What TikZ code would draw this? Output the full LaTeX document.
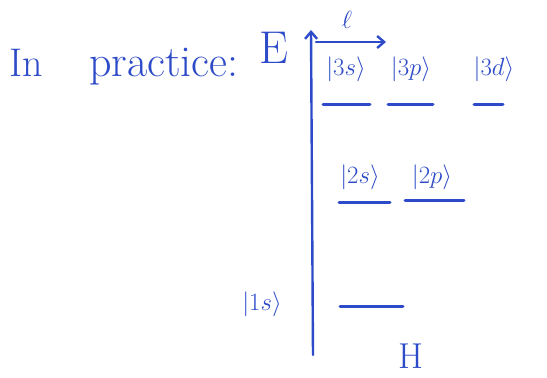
\documentclass[tikz,border=0pt]{standalone}
\usetikzlibrary{arrows.meta}
\definecolor{ink}{RGB}{45,75,200}
\begin{document}
\begin{tikzpicture}[x=1pt,y=-1pt,
  pen/.style={draw=ink, line width=2.4pt, line cap=round},
  level/.style={draw=ink, line width=3pt, line cap=round},
  txt/.style={text=ink, inner sep=1pt, font=\fontsize{40}{42}\selectfont},
  ket/.style={text=ink, inner sep=1pt, font=\fontsize{27}{29}\selectfont}]
\useasboundingbox (0,0) rectangle (547,378);
% title
\node[txt, anchor=base west] (title) at (8,76) {In};
\node[txt, anchor=base west, font=\fontsize{44}{46}\selectfont] (practice) at (88,76) {practice:};
\node[txt, anchor=base, font=\fontsize{46}{48}\selectfont] (E) at (274,63) {E};
% axes
\coordinate (ebot) at (313,355);
\coordinate (etop) at (311,30);
\draw[pen,-{Straight Barb[length=7pt,width=12pt]}] (ebot) -- (etop);
\coordinate (lstart) at (316,42);
\coordinate (lend) at (386,42);
\draw[pen,-{Straight Barb[length=7pt,width=12pt]}] (lstart) -- (lend);
\node[ket, font=\fontsize{30}{32}\selectfont] (ell) at (347,20) {$\ell$};
% n = 3
\coordinate (s3a) at (323,104); \coordinate (s3b) at (370,104);
\coordinate (p3a) at (388,104); \coordinate (p3b) at (433,104);
\coordinate (d3a) at (474,104); \coordinate (d3b) at (503,104);
\draw[level] (s3a) -- (s3b);
\draw[level] (p3a) -- (p3b);
\draw[level] (d3a) -- (d3b);
\node[ket] (k3s) at (346,69) {$|3s\rangle$};
\node[ket] (k3p) at (411,69) {$|3p\rangle$};
\node[ket] (k3d) at (494,69) {$|3d\rangle$};
% n = 2
\coordinate (s2a) at (339,202); \coordinate (s2b) at (390,202);
\coordinate (p2a) at (405,200); \coordinate (p2b) at (464,200);
\draw[level] (s2a) -- (s2b);
\draw[level] (p2a) -- (p2b);
\node[ket] (k2s) at (360,177) {$|2s\rangle$};
\node[ket] (k2p) at (432,177) {$|2p\rangle$};
% n = 1
\coordinate (s1a) at (340,306); \coordinate (s1b) at (403,306);
\draw[level] (s1a) -- (s1b);
\node[ket] (k1s) at (262,304) {$|1s\rangle$};
% label
\node[txt, font=\fontsize{36}{38}\selectfont] (H) at (411,356) {H};
\end{tikzpicture}
\end{document}
